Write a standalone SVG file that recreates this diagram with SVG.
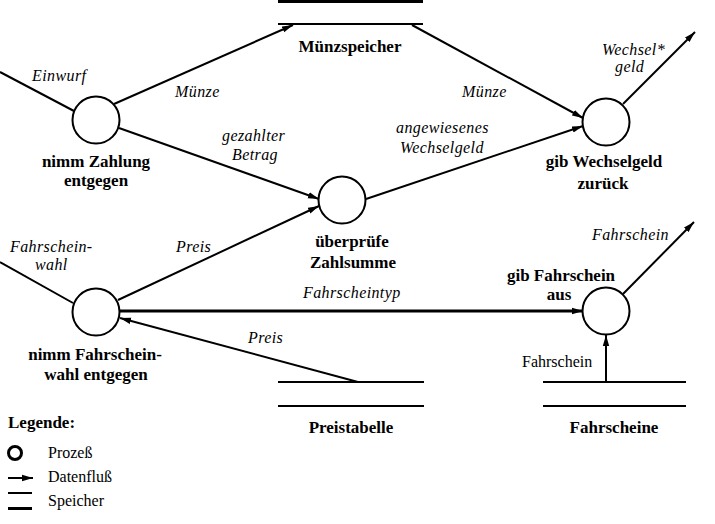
<svg xmlns="http://www.w3.org/2000/svg" width="715" height="524" viewBox="0 0 715 524" font-family="Liberation Serif, DejaVu Serif, serif">
<style>
.bg{fill:#fff}
.proc{fill:#fff;stroke:#000;stroke-width:2}
.flow{fill:none;stroke:#000;stroke-width:2}
.thick{stroke-width:3}
.store{stroke:#000;stroke-width:2}
.storeT{stroke:#000;stroke-width:3}
.nl{font-weight:bold;font-size:17px;text-anchor:middle;fill:#000}
.fl{font-style:italic;font-size:16px;letter-spacing:0.4px;fill:#000}
.rl{font-size:16px;fill:#000}
</style>
<defs>
<marker id="ah" markerUnits="userSpaceOnUse" markerWidth="12" markerHeight="8" refX="11" refY="4" orient="auto">
<path d="M0,0.8 L11,4 L0,7.2 Z" fill="#000"/>
</marker>
</defs>
<rect class="bg" x="0" y="0" width="715" height="524"/>

<g id="connectors">
<line class="flow" x1="0" y1="72" x2="74" y2="111"/>
<line class="flow" x1="114" y1="104" x2="293" y2="25" marker-end="url(#ah)"/>
<line class="flow" x1="119" y1="128" x2="319" y2="199" marker-end="url(#ah)"/>
<line class="flow" x1="118" y1="300" x2="319" y2="206" marker-end="url(#ah)"/>
<line class="flow" x1="412" y1="25" x2="583" y2="118" marker-end="url(#ah)"/>
<line class="flow" x1="366" y1="199" x2="583" y2="126" marker-end="url(#ah)"/>
<line class="flow" x1="623" y1="104" x2="695" y2="32" marker-end="url(#ah)"/>
<line class="flow" x1="0" y1="262" x2="73" y2="303"/>
<line class="flow thick" x1="120" y1="311" x2="583" y2="311" marker-end="url(#ah)"/>
<line class="flow" x1="358" y1="382" x2="120" y2="318" marker-end="url(#ah)"/>
<line class="flow" x1="606" y1="382" x2="606" y2="335" marker-end="url(#ah)"/>
<line class="flow" x1="623" y1="294" x2="694" y2="222" marker-end="url(#ah)"/>
<text class="fl" x="32" y="81">Einwurf</text>
<text class="fl" x="175" y="97">Münze</text>
<text class="fl" x="222" y="141">gezahlter</text>
<text class="fl" x="232" y="160">Betrag</text>
<text class="fl" x="462" y="97">Münze</text>
<text class="fl" x="396" y="133">angewiesenes</text>
<text class="fl" x="400" y="153">Wechselgeld</text>
<text class="fl" x="602" y="55">Wechsel*</text>
<text class="fl" x="615" y="72">geld</text>
<text class="fl" x="10" y="252">Fahrschein-</text>
<text class="fl" x="35" y="270">wahl</text>
<text class="fl" x="176" y="252">Preis</text>
<text class="fl" x="303" y="298">Fahrscheintyp</text>
<text class="fl" x="248" y="343">Preis</text>
<text class="fl" x="592" y="240">Fahrschein</text>
<text class="rl" x="522" y="367">Fahrschein</text>
</g>

<g id="nimmZahlung">
<circle class="proc" cx="96" cy="120" r="23.5"/>
<text class="nl" x="96" y="167">nimm Zahlung</text>
<text class="nl" x="96" y="186">entgegen</text>
</g>
<g id="ueberpruefe">
<circle class="proc" cx="342" cy="200" r="23.5"/>
<text class="nl" x="352" y="247">überprüfe</text>
<text class="nl" x="353" y="268">Zahlsumme</text>
</g>
<g id="gibWechselgeld">
<circle class="proc" cx="606" cy="122" r="23.5"/>
<text class="nl" x="604" y="167">gib Wechselgeld</text>
<text class="nl" x="603" y="189">zurück</text>
</g>
<g id="nimmFahrscheinwahl">
<circle class="proc" cx="96" cy="312" r="23.5"/>
<text class="nl" x="95" y="360">nimm Fahrschein-</text>
<text class="nl" x="96" y="380">wahl entgegen</text>
</g>
<g id="gibFahrschein">
<circle class="proc" cx="606" cy="311" r="23.5"/>
<text class="nl" x="561" y="281">gib Fahrschein</text>
<text class="nl" x="559" y="300">aus</text>
</g>
<g id="muenzspeicher">
<line class="storeT" x1="278" y1="1.5" x2="423" y2="1.5"/>
<line class="store" x1="278" y1="24" x2="423" y2="24"/>
<text class="nl" x="350" y="52">Münzspeicher</text>
</g>
<g id="preistabelle">
<line class="store" x1="278" y1="382" x2="424" y2="382"/>
<line class="store" x1="278" y1="406" x2="424" y2="406"/>
<text class="nl" x="351" y="433">Preistabelle</text>
</g>
<g id="fahrscheine">
<line class="store" x1="543" y1="382" x2="686" y2="382"/>
<line class="store" x1="543" y1="406" x2="686" y2="406"/>
<text class="nl" x="614" y="433">Fahrscheine</text>
</g>
<g id="legende">
<text class="nl" x="8" y="428" style="text-anchor:start">Legende:</text>
<circle cx="15" cy="453" r="6.5" fill="#fff" stroke="#000" stroke-width="3"/>
<text class="rl" x="48" y="458">Prozeß</text>
<line class="flow" x1="8" y1="478" x2="33" y2="478" marker-end="url(#ah)"/>
<text class="rl" x="48" y="482">Datenfluß</text>
<line class="store" x1="8" y1="493" x2="32" y2="493"/>
<line class="storeT" x1="8" y1="508.5" x2="32" y2="508.5"/>
<text class="rl" x="48" y="506">Speicher</text>
</g>
</svg>
